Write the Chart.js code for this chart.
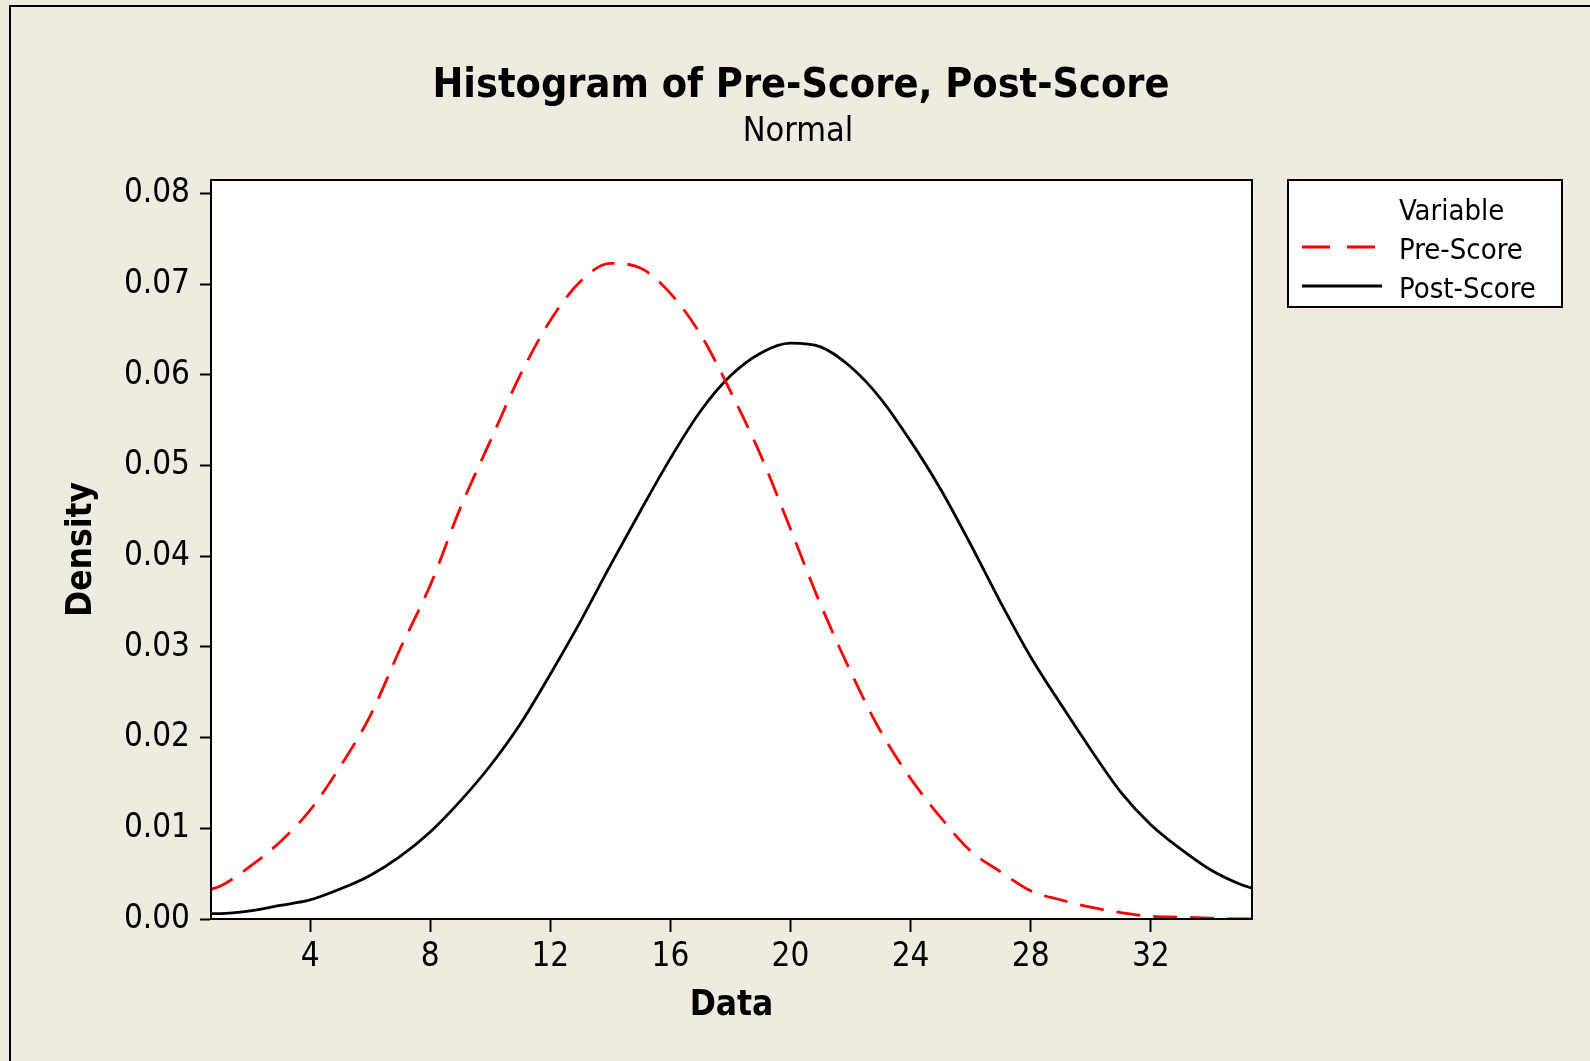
<!DOCTYPE html>
<html>
<head>
<meta charset="utf-8">
<script src="https://cdn.jsdelivr.net/npm/chart.js@4.4.1/dist/chart.umd.min.js"></script>
<style>
html, body { margin: 0; padding: 0; background: #f0ebe1; }
#wrap { width: 1590px; height: 1061px; }
</style>
</head>
<body>
<div id="wrap"><canvas id="chart" width="1590" height="1061"></canvas></div>
<script>
const FONT = "'DejaVu Sans Condensed', 'DejaVu Sans', sans-serif";
const BG = '#f0ebe1';

// x positions the curves were read at
const dataX = [0.7, 1, 2, 3, 4, 5, 6, 7, 8, 9, 10, 11, 12, 13, 14, 15, 16, 17, 18,
	19, 20, 21, 22, 23, 24, 25, 26, 27, 28, 29, 30, 31, 32, 33, 34, 35, 35.37];

const preScore = [0.0033, 0.0036, 0.0058, 0.0085, 0.0120, 0.0168, 0.0224, 0.0298, 0.0368,
	0.0453, 0.0527, 0.0600, 0.0660, 0.0703, 0.0723, 0.0718, 0.0690, 0.0645, 0.0582,
	0.0512, 0.0430, 0.0347, 0.0273, 0.0207, 0.0155, 0.0112, 0.0075, 0.0052, 0.0031,
	0.0021, 0.0013, 0.0007, 0.0003, 0.0002, 0.0001, 0.0000, 0.0000];

const postScore = [0.0006, 0.0006, 0.0009, 0.0015, 0.0021, 0.0033, 0.0048, 0.0069, 0.0096,
	0.0130, 0.0169, 0.0215, 0.0270, 0.0328, 0.0390, 0.0450, 0.0508, 0.0560, 0.0599,
	0.0624, 0.0635, 0.0631, 0.0609, 0.0574, 0.0527, 0.0474, 0.0413, 0.0349, 0.0289,
	0.0237, 0.0187, 0.0140, 0.0104, 0.0077, 0.0054, 0.0038, 0.0034];

const xTicks = [4, 8, 12, 16, 20, 24, 28, 32];
const yTicks = [0, 0.01, 0.02, 0.03, 0.04, 0.05, 0.06, 0.07, 0.08];

function toPoints(ys) {
	return dataX.map(function (x, i) { return {x: x, y: ys[i]}; });
}

var framePlugin = {
	id: 'frame',
	beforeDraw: function (chart) {
		var ctx = chart.ctx;
		var a = chart.chartArea;
		ctx.save();
		ctx.fillStyle = BG;
		ctx.fillRect(0, 0, chart.width, chart.height);
		ctx.strokeStyle = '#000';
		ctx.lineWidth = 2;
		ctx.strokeRect(10, 6, chart.width + 20, chart.height + 20);
		ctx.fillStyle = '#fff';
		ctx.fillRect(a.left, a.top, a.right - a.left, a.bottom - a.top);
		ctx.restore();
	},
	afterDraw: function (chart) {
		var ctx = chart.ctx;
		var a = chart.chartArea;
		ctx.save();
		ctx.strokeStyle = '#000';
		ctx.lineWidth = 2;
		ctx.strokeRect(a.left, a.top, a.right - a.left, a.bottom - a.top);

		// title + subtitle
		ctx.fillStyle = '#000';
		ctx.textAlign = 'center';
		ctx.textBaseline = 'middle';
		ctx.font = 'bold 41px ' + FONT;
		ctx.fillText('Histogram of Pre-Score, Post-Score', 801, 86);
		ctx.font = '34px ' + FONT;
		ctx.fillText('Normal', 798, 132);

		// legend
		ctx.fillStyle = '#fff';
		ctx.fillRect(1288, 180, 274, 127);
		ctx.strokeRect(1288, 180, 274, 127);
		ctx.fillStyle = '#000';
		ctx.textAlign = 'left';
		ctx.font = '29px ' + FONT;
		ctx.fillText('Variable', 1399, 212);
		chart.data.datasets.forEach(function (ds, i) {
			var y = 251 + i * 39;
			ctx.save();
			ctx.strokeStyle = ds.borderColor;
			ctx.lineWidth = ds.borderWidth;
			ctx.setLineDash(ds.borderDash ? [28, 17] : []);
			ctx.beginPath();
			ctx.moveTo(1302, y - 4);
			ctx.lineTo(ds.borderDash ? 1375 : 1382, y - 4);
			ctx.stroke();
			ctx.restore();
			ctx.fillText(ds.label, 1399, y);
		});
		ctx.restore();
	}
};

var axisGrid = function (len) {
	return {drawOnChartArea: false, drawTicks: true, tickLength: len, tickWidth: 2, tickColor: '#000'};
};

new Chart(document.getElementById('chart').getContext('2d'), {
	type: 'line',
	data: {
		datasets: [{
			label: 'Pre-Score',
			data: toPoints(preScore),
			borderColor: '#ff0000',
			borderWidth: 2.8,
			borderDash: [24, 13],
			pointRadius: 0,
			cubicInterpolationMode: 'monotone',
			fill: false
		}, {
			label: 'Post-Score',
			data: toPoints(postScore),
			borderColor: '#000000',
			borderWidth: 2.8,
			pointRadius: 0,
			cubicInterpolationMode: 'monotone',
			fill: false
		}]
	},
	options: {
		responsive: false,
		devicePixelRatio: 1,
		animation: false,
		layout: {padding: {top: 180, right: 338, left: 0, bottom: 0}},
		plugins: {
			legend: {display: false},
			title: {display: false},
			tooltip: {enabled: false}
		},
		scales: {
			x: {
				type: 'linear',
				min: 0.7,
				max: 35.37,
				afterFit: function (scale) { scale.height = 142; },
				afterBuildTicks: function (scale) {
					scale.ticks = xTicks.map(function (v) { return {value: v}; });
				},
				grid: axisGrid(13),
				border: {display: true, color: '#000', width: 2},
				ticks: {
					color: '#000',
					padding: 6,
					maxRotation: 0,
					font: {family: FONT, size: 33},
					callback: function (v) { return v; }
				},
				title: {
					display: true,
					text: 'Data',
					color: '#000',
					font: {family: FONT, size: 35, weight: 'bold'},
					padding: {top: 0, bottom: 34}
				}
			},
			y: {
				type: 'linear',
				min: 0,
				max: 0.0815,
				afterFit: function (scale) { scale.width = 211; },
				afterBuildTicks: function (scale) {
					scale.ticks = yTicks.map(function (v) { return {value: v}; });
				},
				grid: axisGrid(11),
				border: {display: true, color: '#000', width: 2},
				ticks: {
					color: '#000',
					padding: 10,
					font: {family: FONT, size: 33},
					callback: function (v) { return v.toFixed(2); }
				},
				title: {
					display: true,
					text: 'Density',
					color: '#000',
					font: {family: FONT, size: 35, weight: 'bold'},
					padding: {top: 61, bottom: 0}
				}
			}
		}
	},
	plugins: [framePlugin]
});
</script>
</body>
</html>
